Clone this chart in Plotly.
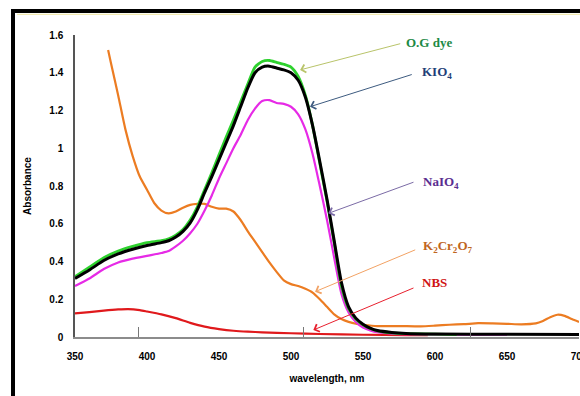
import plotly.graph_objects as go

# Absorption spectra of the O.G dye alone and after treatment with oxidants
wl_og = [350, 360, 370, 380, 390, 400, 410, 415, 420, 425, 430, 435, 440, 445, 450, 455,
         460, 465, 470, 475, 480, 485, 490, 495, 500, 505, 510, 515, 520, 525, 530, 535,
         540, 545, 550, 555, 560, 570, 580, 600, 615]
abs_og = [0.32, 0.37, 0.42, 0.455, 0.48, 0.50, 0.51, 0.52, 0.54, 0.57, 0.62, 0.69, 0.78, 0.87,
          0.965, 1.06, 1.15, 1.245, 1.34, 1.43, 1.46, 1.465, 1.455, 1.445, 1.43, 1.38, 1.28,
          1.12, 0.92, 0.72, 0.50, 0.27, 0.15, 0.095, 0.065, 0.045, 0.033, 0.022, 0.018,
          0.015, 0.013]

wl_kio4 = [350, 360, 370, 380, 390, 400, 410, 415, 420, 425, 430, 435, 440, 445, 450, 455,
           460, 465, 470, 475, 480, 485, 490, 495, 500, 505, 510, 515, 520, 525, 530, 535,
           540, 545, 550, 555, 560, 570, 580, 600, 650, 700]
abs_kio4 = [0.31, 0.355, 0.405, 0.44, 0.465, 0.485, 0.50, 0.51, 0.53, 0.56, 0.605, 0.675,
            0.765, 0.85, 0.94, 1.03, 1.12, 1.22, 1.32, 1.40, 1.43, 1.435, 1.425, 1.415, 1.40,
            1.36, 1.27, 1.12, 0.93, 0.73, 0.51, 0.29, 0.16, 0.10, 0.068, 0.047, 0.034,
            0.024, 0.019, 0.016, 0.014, 0.013]

wl_naio4 = [350, 360, 370, 380, 390, 400, 410, 415, 420, 425, 430, 435, 440, 445, 450, 455,
            460, 465, 470, 475, 480, 485, 490, 495, 500, 505, 510, 515, 520, 525, 530, 535,
            540, 545, 550, 555, 560, 570, 580, 600, 650]
abs_naio4 = [0.27, 0.31, 0.36, 0.395, 0.415, 0.43, 0.445, 0.455, 0.48, 0.51, 0.55, 0.60,
             0.67, 0.75, 0.84, 0.92, 1.00, 1.07, 1.15, 1.21, 1.25, 1.255, 1.24, 1.235, 1.22,
             1.18, 1.10, 0.97, 0.80, 0.62, 0.42, 0.23, 0.13, 0.08, 0.05, 0.035, 0.025,
             0.018, 0.015, 0.013, 0.012]

wl_k2cr2o7 = [373, 375, 380, 385, 390, 395, 400, 405, 410, 415, 420, 425, 430, 435, 440,
              445, 450, 455, 460, 465, 470, 475, 480, 485, 490, 495, 500, 505, 510, 515,
              520, 525, 530, 535, 540, 545, 550, 560, 575, 590, 600, 610, 620, 630, 640,
              650, 660, 670, 675, 680, 685, 690, 695, 700]
abs_k2cr2o7 = [1.52, 1.45, 1.28, 1.10, 0.96, 0.85, 0.78, 0.71, 0.67, 0.655, 0.665, 0.685,
               0.70, 0.705, 0.705, 0.69, 0.68, 0.68, 0.665, 0.62, 0.56, 0.505, 0.45, 0.395,
               0.345, 0.30, 0.28, 0.27, 0.255, 0.235, 0.20, 0.16, 0.12, 0.095, 0.08, 0.07,
               0.065, 0.058, 0.058, 0.056, 0.06, 0.065, 0.068, 0.073, 0.072, 0.07, 0.067,
               0.072, 0.085, 0.105, 0.118, 0.112, 0.095, 0.08]

wl_nbs = [350, 360, 370, 380, 387, 395, 400, 410, 420, 430, 440, 450, 460, 470, 480, 500,
          520, 550, 580, 595]
abs_nbs = [0.125, 0.132, 0.14, 0.146, 0.148, 0.142, 0.135, 0.12, 0.10, 0.075, 0.055, 0.042,
           0.033, 0.028, 0.025, 0.02, 0.016, 0.012, 0.01, 0.01]

y_ticks = [0, 0.2, 0.4, 0.6, 0.8, 1.0, 1.2, 1.4, 1.6]
y_tick_text = ["0", "0.2", "0.4", "0.6", "0.8", "1", "1.2", "1.4", "1.6"]
x_ticks = [350, 400, 450, 500, 550, 600, 650, 700]
x_marks = [394.4, 509, 624.6]

# label text, colour, arrow colour, arrow head (x, y), arrow tail (x, y), text anchor (x, y)
labels = [
    ("O.G dye", "#1d8a45", "#b9c46a", (506.3, 1.415), (576.9, 1.556), (578.5, 1.558)),
    ("KIO<sub>4</sub>", "#1f3f78", "#3d5b80", (513.2, 1.22), (584.9, 1.393), (589.5, 1.404)),
    ("NaIO<sub>4</sub>", "#5a2d90", "#7b6ba6", (525.9, 0.655), (586.1, 0.823), (590.0, 0.816)),
    ("K<sub>2</sub>Cr<sub>2</sub>O<sub>7</sub>", "#c0661e", "#f2a264", (516.7, 0.24),
     (587.3, 0.465), (590.0, 0.477)),
    ("NBS", "#d01414", "#e8202e", (515.5, 0.037), (586.1, 0.263), (589.3, 0.291)),
]

fig = go.Figure()

series = [
    (wl_k2cr2o7, abs_k2cr2o7, "#ec7c22", 2.2, "K2Cr2O7"),
    (wl_nbs, abs_nbs, "#e0191c", 2.2, "NBS"),
    (wl_naio4, abs_naio4, "#e62ae6", 2.2, "NaIO4"),
    (wl_og, abs_og, "#2ed12e", 2.8, "O.G dye"),
    (wl_kio4, abs_kio4, "#000000", 3.0, "KIO4"),
]
for xs, ys, col, w, name in series:
    fig.add_trace(go.Scatter(
        x=xs, y=ys, mode="lines", name=name,
        line=dict(color=col, width=w, shape="spline", smoothing=0.6),
        showlegend=False, hoverinfo="skip",
    ))

# overlay axis that only carries the short inside tick marks
fig.add_trace(go.Scatter(x=[350, 700], y=[0, 0], xaxis="x2", mode="lines",
                         line=dict(width=0), showlegend=False, hoverinfo="skip"))

for text, tcol, acol, head, tail, pos in labels:
    fig.add_annotation(
        x=head[0], y=head[1], ax=tail[0], ay=tail[1], axref="x", ayref="y",
        xref="x", yref="y", text="", showarrow=True,
        arrowhead=4, arrowsize=1.6, arrowwidth=1, arrowcolor=acol,
    )
    fig.add_annotation(
        x=pos[0], y=pos[1], xref="x", yref="y", text=text, showarrow=False,
        xanchor="left", yanchor="middle",
        font=dict(family="Liberation Serif", size=13, color=tcol, weight="bold"),
    )

# outer frame around the figure
fig.add_shape(type="rect", xref="paper", yref="paper",
              x0=-0.123, x1=1.05, y0=-0.3, y1=1.0795,
              line=dict(color="black", width=4), layer="above")
fig.add_shape(type="line", xref="paper", yref="paper",
              x0=-0.115, x1=1.05, y0=1.0685, y1=1.0685,
              line=dict(color="#efe7a0", width=1))

tick_font = dict(family="Liberation Sans", size=10, color="black", weight="bold")

fig.update_layout(
    width=580, height=396,
    margin=dict(l=75, r=1, t=35, b=59, autoexpand=False),
    paper_bgcolor="white", plot_bgcolor="white",
    xaxis=dict(
        range=[350, 700], tickvals=x_ticks, ticks="", showgrid=False, zeroline=False,
        showline=True, linecolor="#8c8c8c", linewidth=1.5, tickfont=tick_font,
        ticklabelstandoff=9, ticklabeloverflow="allow", automargin=False,
        title=dict(text="wavelength, nm", standoff=14,
                   font=dict(family="Liberation Sans", size=10, color="black", weight="bold")),
    ),
    xaxis2=dict(
        range=[350, 700], overlaying="x", anchor="y", side="bottom",
        tickvals=x_marks, ticks="inside", ticklen=10, tickcolor="#777777", tickwidth=1,
        showticklabels=False, showgrid=False, zeroline=False, showline=False,
        automargin=False,
    ),
    yaxis=dict(
        range=[0, 1.6], tickvals=y_ticks, ticktext=y_tick_text, ticks="", showgrid=False,
        zeroline=False, showline=True, linecolor="#555555", linewidth=1.5,
        tickfont=tick_font, ticklabelstandoff=8, automargin=False,
        title=dict(text="Absorbance", standoff=16,
                   font=dict(family="Liberation Sans", size=10, color="black", weight="bold")),
    ),
)

fig.write_html("out.html")
